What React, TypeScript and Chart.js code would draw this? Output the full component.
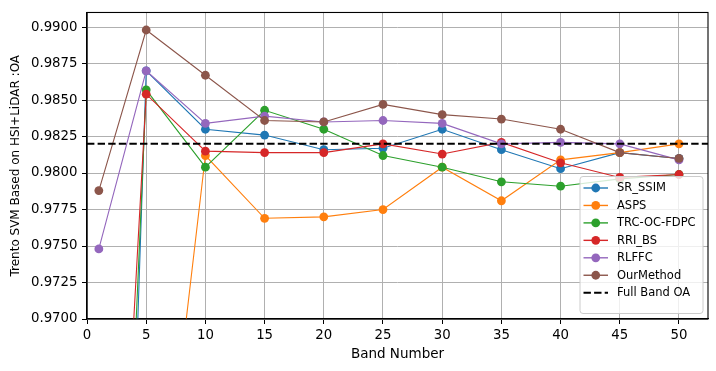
import React, { useEffect, useRef } from 'react';
import { Chart, registerables } from 'chart.js';

Chart.register(...registerables);

const BANDS = [1, 5, 10, 15, 20, 25, 30, 35, 40, 45, 50];
const SR_SSIM = [0.8907, 0.9870, 0.9830, 0.9826, 0.9816, 0.9817, 0.9830, 0.9816, 0.9803, 0.9814, 0.9810];
const ASPS = [0.9350, 0.9465, 0.9812, 0.9769, 0.9770, 0.9775, 0.9804, 0.9781, 0.9809, 0.9814, 0.9820];
const TRC_OC_FDPC = [0.9112, 0.9857, 0.9804, 0.9843, 0.9830, 0.9812, 0.9804, 0.9794, 0.9791, 0.9796, 0.9799];
const RRI_BS = [0.9266, 0.9854, 0.9815, 0.9814, 0.9814, 0.9820, 0.9813, 0.9821, 0.9807, 0.9797, 0.9799];
const RLFFC = [0.9748, 0.9870, 0.9834, 0.9839, 0.9835, 0.9836, 0.9834, 0.9820, 0.9821, 0.9820, 0.9809];
const OUR_METHOD = [0.9788, 0.9898, 0.9867, 0.9836, 0.9835, 0.9847, 0.9840, 0.9837, 0.9830, 0.9814, 0.9810];
const FULL_BAND_OA = 0.9820;

const SERIES_NAMES = ['SR_SSIM', 'ASPS', 'TRC-OC-FDPC', 'RRI_BS', 'RLFFC', 'OurMethod'];
const SERIES_VALUES = [SR_SSIM, ASPS, TRC_OC_FDPC, RRI_BS, RLFFC, OUR_METHOD];
const COLORS = ['#1f77b4', '#ff7f0e', '#2ca02c', '#d62728', '#9467bd', '#8c564b'];
const FULL_LABEL = 'Full Band OA';

const X_MIN = 0;
const X_MAX = 52.45;
const X_TICKS = [0, 5, 10, 15, 20, 25, 30, 35, 40, 45, 50];
const Y_MIN = 0.97;
const Y_MAX = 0.991;
const Y_TICKS = [0.97, 0.9725, 0.975, 0.9775, 0.98, 0.9825, 0.985, 0.9875, 0.99];

const FONT = 'DejaVu Sans';

const frameAndLegend = {
  id: 'frameAndLegend',
  afterDatasetsDraw(chart: any) {
    const { ctx, chartArea: a } = chart;
    ctx.save();
    ctx.strokeStyle = '#000';
    ctx.lineWidth = 1.1;
    ctx.strokeRect(a.left, a.top, a.right - a.left, a.bottom - a.top);
    ctx.restore();
  },
  afterDraw(chart: any) {
    const { ctx, chartArea: a } = chart;
    const w = 123;
    const h = 137;
    const x0 = a.right - 5 - w;
    const y0 = a.bottom - 5.5 - h;
    ctx.save();
    const r = 3;
    ctx.beginPath();
    ctx.moveTo(x0 + r, y0);
    ctx.lineTo(x0 + w - r, y0);
    ctx.quadraticCurveTo(x0 + w, y0, x0 + w, y0 + r);
    ctx.lineTo(x0 + w, y0 + h - r);
    ctx.quadraticCurveTo(x0 + w, y0 + h, x0 + w - r, y0 + h);
    ctx.lineTo(x0 + r, y0 + h);
    ctx.quadraticCurveTo(x0, y0 + h, x0, y0 + h - r);
    ctx.lineTo(x0, y0 + r);
    ctx.quadraticCurveTo(x0, y0, x0 + r, y0);
    ctx.closePath();
    ctx.fillStyle = 'rgba(255,255,255,0.8)';
    ctx.fill();
    ctx.strokeStyle = '#cccccc';
    ctx.lineWidth = 1;
    ctx.stroke();

    const labels = [...SERIES_NAMES, FULL_LABEL];
    const rowStep = 17.45;
    const firstY = y0 + 11.5;
    const hx0 = x0 + 3.5;
    const hx1 = x0 + 28;
    const tx = x0 + 37;
    ctx.font = `11.5px "${FONT}"`;
    ctx.textBaseline = 'middle';
    ctx.textAlign = 'left';
    labels.forEach((lab, i) => {
      const y = firstY + i * rowStep;
      ctx.beginPath();
      if (i < SERIES_NAMES.length) {
        ctx.strokeStyle = COLORS[i];
        ctx.lineWidth = 1.4;
        ctx.setLineDash([]);
        ctx.moveTo(hx0, y);
        ctx.lineTo(hx1, y);
        ctx.stroke();
        ctx.beginPath();
        ctx.fillStyle = COLORS[i];
        ctx.arc((hx0 + hx1) / 2, y, 4.4, 0, Math.PI * 2);
        ctx.fill();
      } else {
        ctx.strokeStyle = '#000';
        ctx.lineWidth = 2;
        ctx.setLineDash([7.4, 3.2]);
        ctx.moveTo(hx0, y);
        ctx.lineTo(hx1, y);
        ctx.stroke();
        ctx.setLineDash([]);
      }
      ctx.fillStyle = '#000';
      ctx.fillText(lab, tx, y + 0.5);
    });
    ctx.restore();
  },
};

export default function App() {
  const ref = useRef<HTMLCanvasElement | null>(null);

  useEffect(() => {
    document.body.style.margin = '0';
    const canvas = ref.current;
    if (!canvas) return;

    const datasets: any[] = SERIES_NAMES.map((name, i) => ({
      label: name,
      data: BANDS.map((b, j) => ({ x: b, y: SERIES_VALUES[i][j] })),
      borderColor: COLORS[i],
      backgroundColor: COLORS[i],
      borderWidth: 1.1,
      pointRadius: 4.4,
      pointHoverRadius: 4.4,
      pointBorderWidth: 0,
      pointBackgroundColor: COLORS[i],
      tension: 0,
      fill: false,
      clip: 0,
      order: SERIES_NAMES.length - i,
    }));
    datasets.push({
      label: FULL_LABEL,
      data: [
        { x: X_MIN, y: FULL_BAND_OA },
        { x: X_MAX, y: FULL_BAND_OA },
      ],
      borderColor: '#000',
      backgroundColor: '#000',
      borderWidth: 2,
      borderDash: [7.4, 3.2],
      pointRadius: 0,
      fill: false,
      clip: 0,
      order: 0,
    });

    const chart = new Chart(canvas, {
      type: 'line',
      data: { datasets },
      options: {
        animation: false,
        responsive: false,
        maintainAspectRatio: false,
        parsing: false,
        layout: { padding: { top: 10, right: 8, left: 0, bottom: 0 } },
        plugins: {
          legend: { display: false },
          tooltip: { enabled: false },
        },
        scales: {
          x: {
            type: 'linear',
            min: X_MIN,
            max: X_MAX,
            afterBuildTicks: (s: any) => {
              s.ticks = X_TICKS.map((v) => ({ value: v }));
            },
            afterFit: (s: any) => {
              s.height = 52;
            },
            ticks: {
              color: '#000',
              font: { family: FONT, size: 13.3 },
              padding: 3.5,
              maxRotation: 0,
              autoSkip: false,
              callback: (v: any) => String(v),
            },
            grid: {
              color: '#b0b0b0',
              lineWidth: 1,
              tickLength: 5,
              tickColor: '#000',
              drawTicks: true,
            },
            border: { color: '#000', width: 1.1 },
            title: {
              display: true,
              text: 'Band Number',
              color: '#000',
              font: { family: FONT, size: 13.5 },
              padding: { top: 0, bottom: 8.5 },
            },
          },
          y: {
            type: 'linear',
            min: Y_MIN,
            max: Y_MAX,
            afterBuildTicks: (s: any) => {
              s.ticks = Y_TICKS.map((v) => ({ value: v }));
            },
            afterFit: (s: any) => {
              s.width = 87;
            },
            ticks: {
              color: '#000',
              font: { family: FONT, size: 13.3 },
              padding: 4.5,
              autoSkip: false,
              callback: (v: any) => Number(v).toFixed(4),
            },
            grid: {
              color: '#b0b0b0',
              lineWidth: 1,
              tickLength: 5,
              tickColor: '#000',
              drawTicks: true,
            },
            border: { color: '#000', width: 1.1 },
            title: {
              display: true,
              text: 'Trento SVM Based on HSI+LiDAR :OA',
              color: '#000',
              font: { family: FONT, size: 12 },
              padding: { top: 9, bottom: 0 },
            },
          },
        },
      },
      plugins: [frameAndLegend],
    });

    return () => chart.destroy();
  }, []);

  return (
    <div style={{ width: 716, height: 371, position: 'relative' }}>
      <canvas ref={ref} width={716} height={371} style={{ width: 716, height: 371, display: 'block' }} />
    </div>
  );
}
